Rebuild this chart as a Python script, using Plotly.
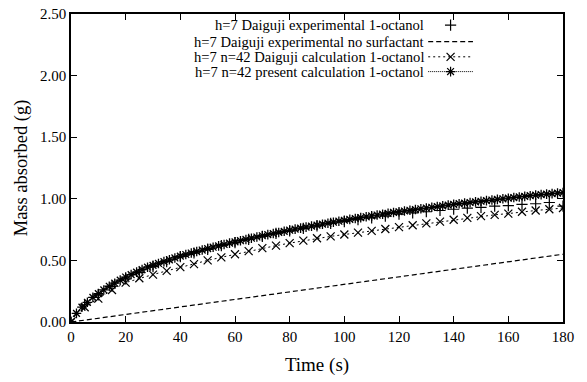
import plotly.graph_objects as go

# ---- data ----
t_present = list(range(0, 182, 2))
m_present = [0, 0.07, 0.12, 0.16, 0.20, 0.23, 0.26, 0.29, 0.315, 0.34,
             0.365, 0.385, 0.405, 0.425, 0.445, 0.46, 0.475, 0.49, 0.505, 0.52,
             0.535, 0.548, 0.56, 0.572, 0.584, 0.596, 0.607, 0.618, 0.629, 0.64,
             0.65, 0.66, 0.67, 0.68, 0.69, 0.70, 0.709, 0.718, 0.727, 0.736,
             0.745, 0.754, 0.762, 0.770, 0.778, 0.786, 0.794, 0.802, 0.810, 0.818,
             0.826, 0.833, 0.840, 0.847, 0.854, 0.861, 0.868, 0.875, 0.882, 0.889,
             0.895, 0.901, 0.907, 0.913, 0.919, 0.925, 0.931, 0.937, 0.943, 0.949,
             0.955, 0.960, 0.965, 0.970, 0.975, 0.980, 0.985, 0.990, 0.995, 1.000,
             1.005, 1.010, 1.015, 1.020, 1.025, 1.030, 1.034, 1.038, 1.042, 1.046,
             1.050]

t_5 = list(range(0, 185, 5))
m_daiguji_calc = [0, 0.12, 0.19, 0.26, 0.32, 0.355, 0.385, 0.415, 0.445, 0.47,
                  0.50, 0.525, 0.55, 0.575, 0.60, 0.62, 0.64, 0.66, 0.68, 0.695,
                  0.71, 0.725, 0.74, 0.755, 0.77, 0.785, 0.80, 0.815, 0.83, 0.845,
                  0.86, 0.87, 0.88, 0.895, 0.905, 0.915, 0.925]
m_experimental = [0, 0.14, 0.22, 0.29, 0.35, 0.40, 0.45, 0.49, 0.53, 0.56,
                  0.59, 0.62, 0.645, 0.67, 0.695, 0.72, 0.74, 0.76, 0.78, 0.80,
                  0.815, 0.83, 0.845, 0.86, 0.875, 0.885, 0.895, 0.905, 0.915, 0.925,
                  0.93, 0.94, 0.945, 0.955, 0.96, 0.97, 0.94]

t_nosurf = [0, 30, 60, 90, 120, 150, 180]
m_nosurf = [0, 0.092, 0.183, 0.275, 0.367, 0.458, 0.55]

legend_labels = ["h=7 Daiguji experimental 1-octanol",
                 "h=7 Daiguji experimental no surfactant",
                 "h=7 n=42 Daiguji calculation 1-octanol",
                 "h=7 n=42 present calculation 1-octanol"]

FONT = "Liberation Serif"

fig = go.Figure()
fig.add_trace(go.Scatter(x=t_5, y=m_experimental, mode="markers",
                         marker=dict(symbol="cross-thin-open", size=8, color="black",
                                     line=dict(width=1.2, color="black")),
                         showlegend=False))
fig.add_trace(go.Scatter(x=t_nosurf, y=m_nosurf, mode="lines",
                         line=dict(color="black", width=1.2, dash="5px,3px"),
                         showlegend=False))
fig.add_trace(go.Scatter(x=t_5, y=m_daiguji_calc, mode="lines+markers",
                         line=dict(color="black", width=1, dash="2px,3px"),
                         marker=dict(symbol="x-thin-open", size=8, color="black",
                                     line=dict(width=1.2, color="black")),
                         showlegend=False))
fig.add_trace(go.Scatter(x=t_present, y=m_present, mode="lines+markers",
                         line=dict(color="black", width=1, dash="dot"),
                         marker=dict(symbol="asterisk-open", size=8, color="black",
                                     line=dict(width=1.3, color="black")),
                         showlegend=False))

# ---- manual legend (text right, key to the right) ----
rows_y = [0.964, 0.910, 0.861, 0.813]
key_x0, key_x1 = 0.726, 0.817
for i, lab in enumerate(legend_labels):
    fig.add_annotation(x=0.722, y=rows_y[i], xref="paper", yref="paper", text=lab,
                       showarrow=False, xanchor="right", yanchor="middle",
                       font=dict(family=FONT, size=14.6, color="black"))
fig.add_shape(type="line", xref="paper", yref="paper", x0=key_x0, x1=key_x1,
              y0=rows_y[1], y1=rows_y[1], line=dict(color="black", width=1.2, dash="5px,3px"))
fig.add_shape(type="line", xref="paper", yref="paper", x0=key_x0, x1=key_x1,
              y0=rows_y[2], y1=rows_y[2], line=dict(color="black", width=1, dash="2px,3px"))
fig.add_shape(type="line", xref="paper", yref="paper", x0=key_x0, x1=key_x1,
              y0=rows_y[3], y1=rows_y[3], line=dict(color="black", width=1, dash="1px,1px"))
kx = (key_x0 + key_x1) / 2
fig.add_trace(go.Scatter(x=[kx, kx, kx], y=[rows_y[0], rows_y[2], rows_y[3]],
                         xaxis="x2", yaxis="y2", mode="markers", showlegend=False,
                         hoverinfo="skip",
                         marker=dict(symbol=["cross-thin-open", "x-thin-open", "asterisk-open"],
                                     size=8, color="black",
                                     line=dict(width=1.2, color="black"))))

fig.update_layout(
    width=587, height=382,
    margin=dict(l=71, r=24, t=14, b=60, autoexpand=False),
    paper_bgcolor="white", plot_bgcolor="white",
    font=dict(family=FONT, size=15, color="black"),
    xaxis=dict(range=[0, 180], tickmode="array", tickvals=list(range(0, 181, 20)),
               ticks="inside", ticklen=6, tickcolor="black", showgrid=False, zeroline=False,
               showline=True, linecolor="black", linewidth=1.5, mirror="ticks",
               automargin=False,
               title=dict(text="Time (s)", font=dict(family=FONT, size=19), standoff=14),
               tickfont=dict(family=FONT, size=15)),
    yaxis=dict(range=[0, 2.5], tickmode="array", tickvals=[0, 0.5, 1.0, 1.5, 2.0, 2.5],
               ticktext=["0.00", "0.50", "1.00", "1.50", "2.00", "2.50"],
               ticks="inside", ticklen=6, tickcolor="black", showgrid=False, zeroline=False,
               showline=True, linecolor="black", linewidth=1.5, mirror="ticks",
               automargin=False,
               title=dict(text="Mass absorbed (g)", font=dict(family=FONT, size=18.5), standoff=8),
               tickfont=dict(family=FONT, size=15)),
    xaxis2=dict(range=[0, 1], overlaying="x", visible=False, anchor="y2"),
    yaxis2=dict(range=[0, 1], overlaying="y", visible=False, anchor="x2"),
)

fig.write_html("out.html", config={"displayModeBar": False},
               post_script="document.body.style.margin='0';document.body.style.padding='0';")
